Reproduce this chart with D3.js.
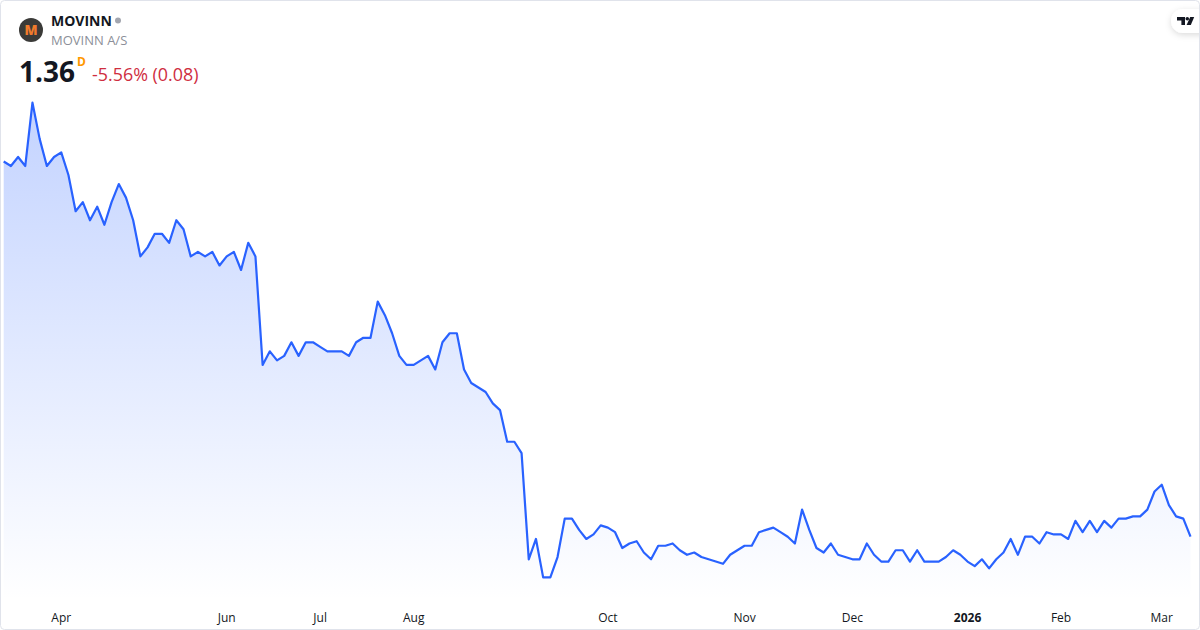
<!DOCTYPE html>
<html>
<head>
<meta charset="utf-8">
<script src="https://cdn.jsdelivr.net/npm/d3@7/dist/d3.min.js"></script>
<style>
html,body{margin:0;padding:0;background:#fff;overflow:hidden}
svg{display:block}
text{font-family:"Open Sans",sans-serif}
</style>
</head>
<body>
<svg id="c" width="1200" height="630"></svg>
<script>
const symbol = "MOVINN", company = "MOVINN A/S", lastPrice = "1.36", interval = "D", change = "-5.56% (0.08)";
const prices = [
3.02,3.00,3.04,3.00,3.28,3.12,3.00,3.04,3.06,2.96,2.80,2.84,2.76,2.82,2.74,2.84,2.92,2.86,2.76,2.60,
2.64,2.70,2.70,2.66,2.76,2.72,2.60,2.62,2.60,2.62,2.56,2.60,2.62,2.54,2.66,2.60,
2.12,2.18,2.14,2.16,2.22,2.16,2.22,2.22,2.20,2.18,2.18,2.18,2.16,2.22,2.24,2.24,2.40,2.34,2.26,2.16,
2.12,2.12,2.14,2.16,2.10,2.22,2.26,2.26,2.10,2.04,2.02,2.00,1.95,1.92,1.78,1.78,1.73,
1.26,1.35,1.18,1.18,1.27,1.44,1.44,1.39,1.35,1.37,1.41,1.40,1.38,1.31,1.33,1.34,1.29,1.26,1.32,1.32,1.33,
1.30,1.28,1.29,1.27,1.26,1.25,1.24,1.28,1.30,1.32,1.32,1.38,1.39,1.40,1.38,1.36,1.33,1.48,1.39,1.31,1.29,
1.33,1.28,1.27,1.26,1.26,1.33,1.28,1.25,1.25,1.30,1.30,1.25,1.30,1.25,1.25,1.25,1.27,1.30,1.28,1.25,1.23,
1.26,1.22,1.26,1.29,1.35,1.28,1.36,1.36,1.33,1.38,1.37,1.37,1.35,1.43,1.38,1.43,1.38,1.43,1.40,1.44,1.44,
1.45,1.45,1.48,1.56,1.59,1.50,1.45,1.44,1.36
];
const tickLabels = ["Apr","Jun","Jul","Aug","Oct","Nov","Dec","2026","Feb","Mar"];
const tickSessions = [8,31,44,57,84,103,118,134,147,161];

const svg = d3.select("#c");
const x = d3.scaleLinear().domain([0, prices.length - 1]).range([3.7, 1190.5]);
const y = d3.scaleLinear().domain([1.36, 3.28]).range([536.7, 102.7]);
const plotBottom = 600;

const defs = svg.append("defs");
const g = defs.append("linearGradient").attr("id","fade").attr("gradientUnits","userSpaceOnUse")
  .attr("x1",0).attr("x2",0).attr("y1",y(d3.max(prices))).attr("y2",plotBottom);
g.append("stop").attr("offset",0).attr("stop-color","#2962ff").attr("stop-opacity",0.28);
g.append("stop").attr("offset",1).attr("stop-color","#2962ff").attr("stop-opacity",0);
const f = defs.append("filter").attr("id","sh").attr("x","-50%").attr("y","-50%").attr("width","200%").attr("height","200%");
f.append("feDropShadow").attr("dx",0).attr("dy",2).attr("stdDeviation",3).attr("flood-color","#000").attr("flood-opacity",0.14);

svg.append("rect").attr("width",1200).attr("height",630).attr("fill","#fff");

const idx = d3.range(prices.length);
svg.append("path").attr("fill","url(#fade)")
  .attr("d", d3.area().x(i=>x(i)).y0(plotBottom).y1(i=>y(prices[i]))(idx));
svg.append("path").attr("fill","none").attr("stroke","#2962ff").attr("stroke-width",2.2)
  .attr("stroke-linejoin","round")
  .attr("d", d3.line().x(i=>x(i)).y(i=>y(prices[i]))(idx));

const axis = d3.axisBottom(x).tickValues(tickSessions).tickSize(0).tickPadding(0)
  .tickFormat((d,i)=>tickLabels[i]);
const ax = svg.append("g").attr("transform","translate(-0.5,613)").call(axis);
ax.select(".domain").remove();
ax.selectAll("text").attr("font-size",12).attr("fill","#131722")
  .attr("font-family",'"Open Sans",sans-serif')
  .attr("font-weight",(d,i)=>tickLabels[i]==="2026"?700:400);

// header
svg.append("circle").attr("cx",31).attr("cy",30).attr("r",12).attr("fill","#3a3a38");
svg.append("text").attr("x",31).attr("y",34.5).attr("text-anchor","middle").attr("font-size",13.5).attr("font-weight",800).attr("fill","#f07a2c").text("M");
svg.append("text").attr("x",51).attr("y",26).attr("font-size",14).attr("font-weight",700).attr("fill","#131722").text(symbol);
svg.append("circle").attr("cx",118).attr("cy",20.5).attr("r",3).attr("fill","#a3a6af");
svg.append("text").attr("x",51).attr("y",45).attr("font-size",13).attr("fill","#8c8f99").attr("font-weight",400).text(company);
svg.append("text").attr("x",19).attr("y",82).attr("font-size",28).attr("font-weight",700).attr("fill","#131722").text(lastPrice);
svg.append("text").attr("x",77).attr("y",65.5).attr("font-size",12).attr("font-weight",700).attr("fill","#ff9800").text(interval);
svg.append("text").attr("x",92).attr("y",81).attr("font-size",17.9).attr("fill","#cf2e3f").text(change);

// attribution badge
svg.append("rect").attr("x",1171).attr("y",9).attr("width",50).attr("height",24).attr("rx",12).attr("fill","#fff").attr("filter","url(#sh)");
svg.append("path").attr("fill","#131722").attr("d","M1177 17h8v8h-3.6v-4.6h-4.4z");
svg.append("circle").attr("cx",1187.3).attr("cy",18.7).attr("r",1.8).attr("fill","#131722");
svg.append("path").attr("fill","#131722").attr("d","M1190.2 17h4l-3.4 8h-4.2z");

// frame
svg.append("rect").attr("x",0.5).attr("y",0.5).attr("width",1199).attr("height",629).attr("rx",4)
  .attr("fill","none").attr("stroke","#e0e3eb").attr("stroke-width",1);
</script>
</body>
</html>
